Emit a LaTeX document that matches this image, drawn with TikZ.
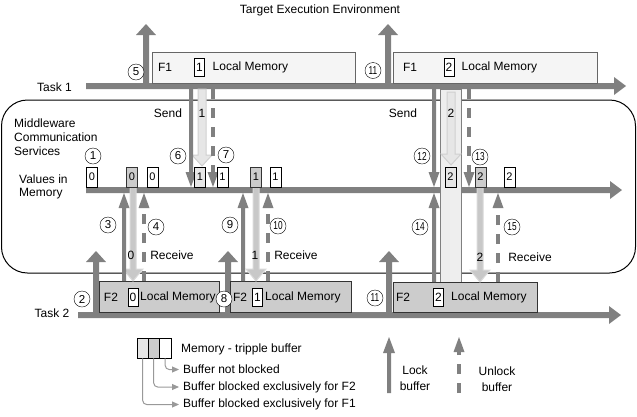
\documentclass[tikz,border=0pt]{standalone}
\usepackage{fontspec}
\setmainfont{Liberation Sans}
\usepackage{graphicx}
\usetikzlibrary{arrows.meta}
\definecolor{dk}{HTML}{808080}
\definecolor{cf5}{HTML}{F5F5F5}
\definecolor{c66}{HTML}{666666}
\definecolor{c33}{HTML}{333333}
\definecolor{cgray}{HTML}{CCCCCC}
\definecolor{clight}{HTML}{E6E6E6}
\definecolor{cd0}{HTML}{D0D0D0}
\definecolor{cc8}{HTML}{C8C8C8}
\definecolor{cd9}{HTML}{D9D9D9}
\definecolor{ccol}{HTML}{EEEEEE}
\definecolor{c99}{HTML}{999999}
% vertical block arrow: style, x, y tail, y tip, shaft w, head w, head l
\newcommand\varr[7]{%
  \pgfmathsetmacro\vyb{#4-sign(#4-#3)*#7}%
  \path[#1] ({#2-#5/2},#3) -- ({#2-#5/2},\vyb) -- ({#2-#6/2},\vyb) -- (#2,#4) -- ({#2+#6/2},\vyb) -- ({#2+#5/2},\vyb) -- ({#2+#5/2},#3) -- cycle;}
% horizontal block arrow: style, y, x tail, x tip, shaft w, head w, head l
\newcommand\harr[7]{%
  \pgfmathsetmacro\hxb{#4-sign(#4-#3)*#7}%
  \path[#1] (#3,{#2-#5/2}) -- (\hxb,{#2-#5/2}) -- (\hxb,{#2-#6/2}) -- (#4,#2) -- (\hxb,{#2+#6/2}) -- (\hxb,{#2+#5/2}) -- (#3,{#2+#5/2}) -- cycle;}
% dashed vertical arrow: x, y tail, y tip
\newcommand\darr[3]{%
  \pgfmathsetmacro\vyb{#3-sign(#3-#2)*15}%
  \draw[dk, line width=4pt, dash pattern=on 10pt off 9pt] (#1,#2) -- (#1,\vyb);
  \fill[dk] ({#1-5.5},\vyb) -- (#1,#3) -- ({#1+5.5},\vyb) -- cycle;}
\newcommand\tw[1]{\scalebox{0.72}[1]{#1}}
\begin{document}
\begin{tikzpicture}[x=1pt,y=-1pt,
  lbl/.style={inner sep=0pt, font=\fontsize{12}{14}\selectfont},
  vbox/.style={draw=black, fill=white, minimum width=11pt, minimum height=20pt, inner sep=0pt, anchor=south, font=\fontsize{11}{11}\selectfont},
  vgray/.style={vbox, fill=cgray, draw=c33},
  vlight/.style={vbox, fill=clight},
  ibox/.style={draw=black, fill=white, minimum width=10pt, minimum height=18pt, inner sep=0pt, font=\fontsize{12}{12}\selectfont},
  circ/.style={circle, draw=black, fill=white, minimum size=16pt, inner sep=0pt, font=\fontsize{11.5}{11.5}\selectfont},
  f1box/.style={draw=c66, fill=cf5, line width=1pt, anchor=north west, inner sep=0pt},
  f2box/.style={draw=c33, fill=cgray, line width=1pt, anchor=north west, inner sep=0pt},
  tarr/.style={fill=dk},
  sendarr/.style={fill=clight, draw=cd0, line width=1pt},
  recvarr/.style={fill=cc8, draw=cd9, line width=1pt},
  conn/.style={draw=c99, line width=1pt, rounded corners=4pt, shorten >=4pt, -{Triangle[width=6pt,length=7pt]}},
]
\useasboundingbox (0,0) rectangle (637,416);
% middleware
\draw[black, line width=1pt, rounded corners=26pt] (1.5,100) rectangle (635.5,273);
\node[lbl, align=left, anchor=west] (mw) at (14,137) {Middleware\\Communication\\Services};
\node[lbl, align=left, anchor=west, font=\fontsize{12}{13}\selectfont] (vim) at (19,187) {Values in\\Memory};
% title
\node[lbl] (title) at (320,10) {Target Execution Environment};
% task lines
\harr{tarr}{86}{86}{626}{6}{18}{12}
\harr{tarr}{190}{86}{622}{6}{18}{12}
\harr{tarr}{315}{78}{621}{6}{18}{12}
\node[lbl] (t1) at (54.5,87) {Task 1};
\node[lbl] (t2) at (52,313) {Task 2};
% up arrows
\varr{tarr}{146}{86}{24}{6}{20}{11}
\varr{tarr}{388}{86}{24}{6}{20}{11}
\varr{tarr}{96}{315}{251}{6}{20}{11}
\varr{tarr}{228}{315}{251}{6}{20}{11}
\varr{tarr}{389}{315}{251}{6}{20}{11}
% column (buffer 2 locked)
\node[draw=dk, fill=ccol, line width=1pt, anchor=north west, inner sep=0pt, minimum width=21pt, minimum height=193pt] (col) at (440,89) {};
% F1 boxes
\node[f1box, minimum width=203pt, minimum height=31pt] (f1a) at (152,52) {};
\node[lbl] (f1aF) at (165,67.5) {F1};
\node[ibox] (f1aM) at (199.5,67.5) {1};
\node[lbl, anchor=west] (f1aL) at (212.5,67.5) {Local Memory};
\node[f1box, minimum width=204pt, minimum height=31pt] (f1b) at (393,52) {};
\node[lbl] (f1bF) at (410,67.5) {F1};
\node[ibox] (f1bM) at (449,67.5) {2};
\node[lbl, anchor=west] (f1bL) at (461.5,67.5) {Local Memory};
% F2 boxes
\node[f2box, minimum width=120pt, minimum height=31pt] (f2a) at (99,281) {};
\node[lbl] (f2aF) at (111,297) {F2};
\node[ibox] (f2aM) at (133,297) {0};
\node[lbl, anchor=west] (f2aL) at (140,297) {Local Memory};
\node[f2box, minimum width=121pt, minimum height=31pt] (f2b) at (230,281) {};
\node[lbl] (f2bF) at (240,297) {F2};
\node[ibox] (f2bM) at (257.5,297) {1};
\node[lbl, anchor=west] (f2bL) at (265,297) {Local Memory};
\node[f2box, minimum width=144pt, minimum height=30pt] (f2c) at (393,282) {};
\node[lbl] (f2cF) at (403,297) {F2};
\node[ibox] (f2cM) at (438.5,297) {2};
\node[lbl, anchor=west] (f2cL) at (451,297) {Local Memory};
% send arrows
\varr{sendarr}{202}{89}{166}{8}{20}{11}
\varr{sendarr}{451}{92}{165}{8}{20}{11}
\varr{tarr}{191}{89}{187}{4}{11}{15}
\varr{tarr}{434}{89}{187}{4}{11}{15}
\darr{213}{89}{187}
\darr{469}{89}{187}
% receive arrows
\varr{recvarr}{133}{187}{281}{6}{20}{12}
\varr{recvarr}{256}{187}{281}{6}{20}{12}
\varr{recvarr}{480}{187}{282}{6}{20}{12}
\varr{tarr}{124}{281}{193}{4}{11}{15}
\varr{tarr}{243}{281}{193}{4}{11}{15}
\varr{tarr}{434}{282}{193}{4}{11}{15}
\darr{144}{281}{193}
\darr{268}{281}{193}
\darr{498}{282}{193}
% value boxes
\node[vbox] (v1) at (92,187) {0};
\node[vgray] (v2) at (132,187) {0};
\node[vbox] (v3) at (152.5,187) {0};
\node[vlight] (v4) at (200,187) {1};
\node[vbox] (v5) at (222.5,187) {1};
\node[vgray] (v6) at (256,187) {1};
\node[vbox] (v7) at (275.5,187) {1};
\node[vlight] (v8) at (450.5,187) {2};
\node[vgray] (v9) at (480.5,187) {2};
\node[vbox] (v10) at (509.5,187) {2};
% labels
\node[lbl] (s1) at (168,113) {Send};
\node[lbl] (s2) at (403,113) {Send};
\node[lbl] (sn1) at (202,113) {1};
\node[lbl] (sn2) at (451,113) {2};
\node[lbl] (r1) at (172,255) {Receive};
\node[lbl] (r2) at (296,255) {Receive};
\node[lbl] (r3) at (530,257) {Receive};
\node[lbl] (rn1) at (131,255) {0};
\node[lbl] (rn2) at (255,255) {1};
\node[lbl] (rn3) at (480,257) {2};
% circled numbers
\node[circ] (c1) at (93,156) {1};
\node[circ] (c2) at (82,299) {2};
\node[circ] (c3) at (108,225) {3};
\node[circ] (c4) at (156,227) {4};
\node[circ] (c5) at (136,72) {5};
\node[circ] (c6) at (178,156) {6};
\node[circ] (c7) at (226,155) {7};
\node[circ] (c8) at (224,299) {8};
\node[circ] (c9) at (230,225) {9};
\node[circ] (c10) at (278,226) {\tw{10}};
\node[circ] (c11a) at (373,70.5) {\tw{11}};
\node[circ] (c11b) at (375,298) {\tw{11}};
\node[circ] (c12) at (422,156) {\tw{12}};
\node[circ] (c13) at (480,157) {\tw{13}};
\node[circ] (c14) at (420,227) {\tw{14}};
\node[circ] (c15) at (512,227) {\tw{15}};
% legend
\node[draw=black, fill=clight, minimum width=11pt, minimum height=20pt, inner sep=0pt, anchor=north west] (lg1) at (137,338) {};
\node[draw=black, fill=cgray, minimum width=11pt, minimum height=20pt, inner sep=0pt, anchor=north west] (lg2) at (148,338) {};
\node[draw=black, fill=white, minimum width=12pt, minimum height=20pt, inner sep=0pt, anchor=north west] (lg3) at (159,338) {};
\node[lbl, anchor=west] (lgt) at (181,349) {Memory - tripple buffer};
\node[lbl, anchor=west] (lgt3) at (183,369.5) {Buffer not blocked};
\node[lbl, anchor=west] (lgt2) at (183,387) {Buffer blocked exclusively for F2};
\node[lbl, anchor=west] (lgt1) at (183,404.5) {Buffer blocked exclusively for F1};
\draw[conn] (lg3.south) |- (lgt3.west);
\draw[conn] (lg2.south) |- (lgt2.west);
\draw[conn] (lg1.south) |- (lgt1.west);
\varr{tarr}{389}{393}{337}{4}{12}{16}
\darr{459}{393}{337}
\node[lbl, align=center, font=\fontsize{12}{15.5}\selectfont] (lk) at (415,378) {Lock\\buffer};
\node[lbl, align=center, font=\fontsize{12}{15.5}\selectfont] (ul) at (497,379) {Unlock\\buffer};
\end{tikzpicture}
\end{document}
